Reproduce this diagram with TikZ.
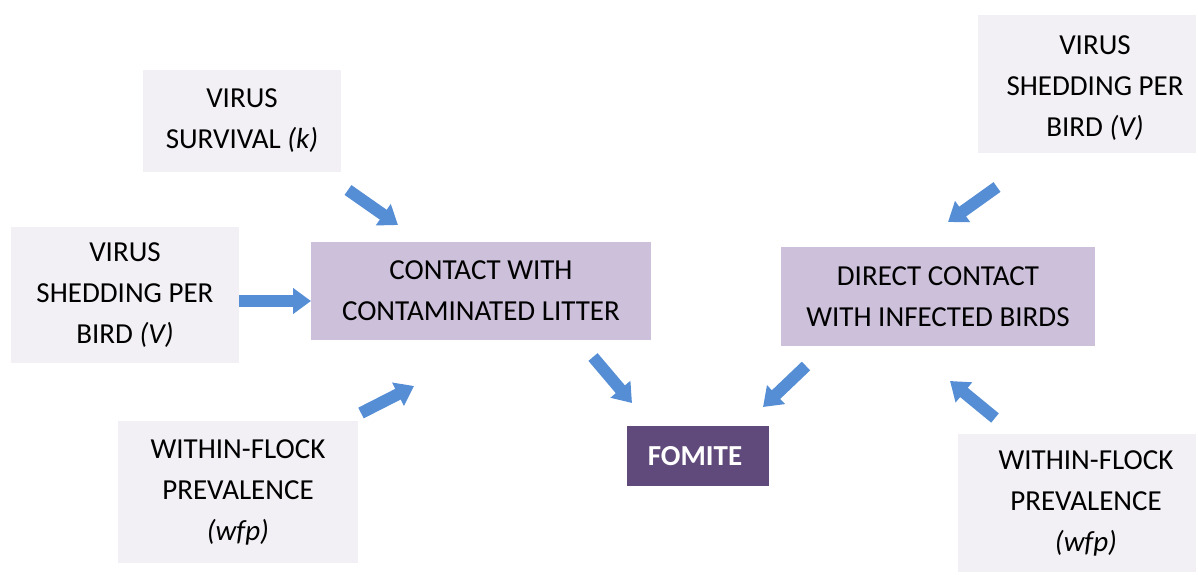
\documentclass[tikz,border=0pt]{standalone}
\usepackage{fontspec}
\setmainfont{Carlito}
\usetikzlibrary{arrows.meta}
\definecolor{boxgray}{HTML}{F2F0F5}
\definecolor{lavender}{HTML}{CCC0DA}
\definecolor{darkpurple}{HTML}{604A7B}
\definecolor{arrowblue}{HTML}{558ED5}
\tikzset{
  boxtext/.style={align=center, inner sep=0pt, font=\fontsize{29}{41}\selectfont},
  inbox/.style={fill=boxgray, draw=none, boxtext},
  midbox/.style={fill=lavender, draw=none, boxtext},
  outbox/.style={fill=darkpurple, draw=none, text=white, align=center, inner sep=0pt, font=\fontsize{29}{40}\selectfont\bfseries},
  blockarrow/.style={draw=arrowblue, line width=12pt, -{Triangle[length=18pt,width=25pt]}},
}
\begin{document}
\begin{tikzpicture}[x=1pt,y=-1pt]
\useasboundingbox (0,0) rectangle (1198,574);
% input boxes
\node[inbox, minimum width=198pt, minimum height=102pt] (surv) at (242,121) {VIRUS\\SURVIVAL \textit{(k)}};
\node[inbox, minimum width=228pt, minimum height=136pt] (shedL) at (125,295) {VIRUS\\SHEDDING PER\\BIRD \textit{(V)}};
\node[inbox, minimum width=240pt, minimum height=142pt] (wfpL) at (238,492) {WITHIN-FLOCK\\PREVALENCE\\\textit{(wfp)}};
\node[inbox, minimum width=218pt, minimum height=138pt,
  label={[boxtext, xshift=8pt, yshift=-4pt]center:{VIRUS\\SHEDDING PER\\BIRD \textit{(V)}}}] (shedR) at (1087,84) {};
\node[inbox, minimum width=238pt, minimum height=138pt,
  label={[boxtext, xshift=9pt]center:{WITHIN-FLOCK\\PREVALENCE\\\textit{(wfp)}}}] (wfpR) at (1077,503) {};
% middle boxes
\node[midbox, minimum width=340pt, minimum height=98pt] (litter) at (481,291) {CONTACT WITH\\CONTAMINATED LITTER};
\node[midbox, minimum width=314pt, minimum height=99pt] (direct) at (938,296.5) {DIRECT CONTACT\\WITH INFECTED BIRDS};
% output
\node[outbox, minimum width=142pt, minimum height=60pt,
  label={[text=white, font=\fontsize{29}{40}\selectfont\bfseries, xshift=-3pt]center:FOMITE}] (fomite) at (698,456) {};
% arrow end coordinates
\coordinate (a1s) at (348,190); \coordinate (a1e) at (398,225);
\coordinate (a2s) at (239,301); \coordinate (a2e) at (311,301);
\coordinate (a3s) at (361,413); \coordinate (a3e) at (414,386);
\coordinate (a4s) at (593,357); \coordinate (a4e) at (632,403);
\coordinate (a5s) at (806,366); \coordinate (a5e) at (763,407);
\coordinate (a6s) at (997,187); \coordinate (a6e) at (948,222);
\coordinate (a7s) at (995,418); \coordinate (a7e) at (950,381);
\draw[blockarrow] (a1s) -- (a1e);
\draw[blockarrow] (a2s) -- (a2e);
\draw[blockarrow] (a3s) -- (a3e);
\draw[blockarrow] (a4s) -- (a4e);
\draw[blockarrow] (a5s) -- (a5e);
\draw[blockarrow] (a6s) -- (a6e);
\draw[blockarrow] (a7s) -- (a7e);
\end{tikzpicture}
\end{document}
